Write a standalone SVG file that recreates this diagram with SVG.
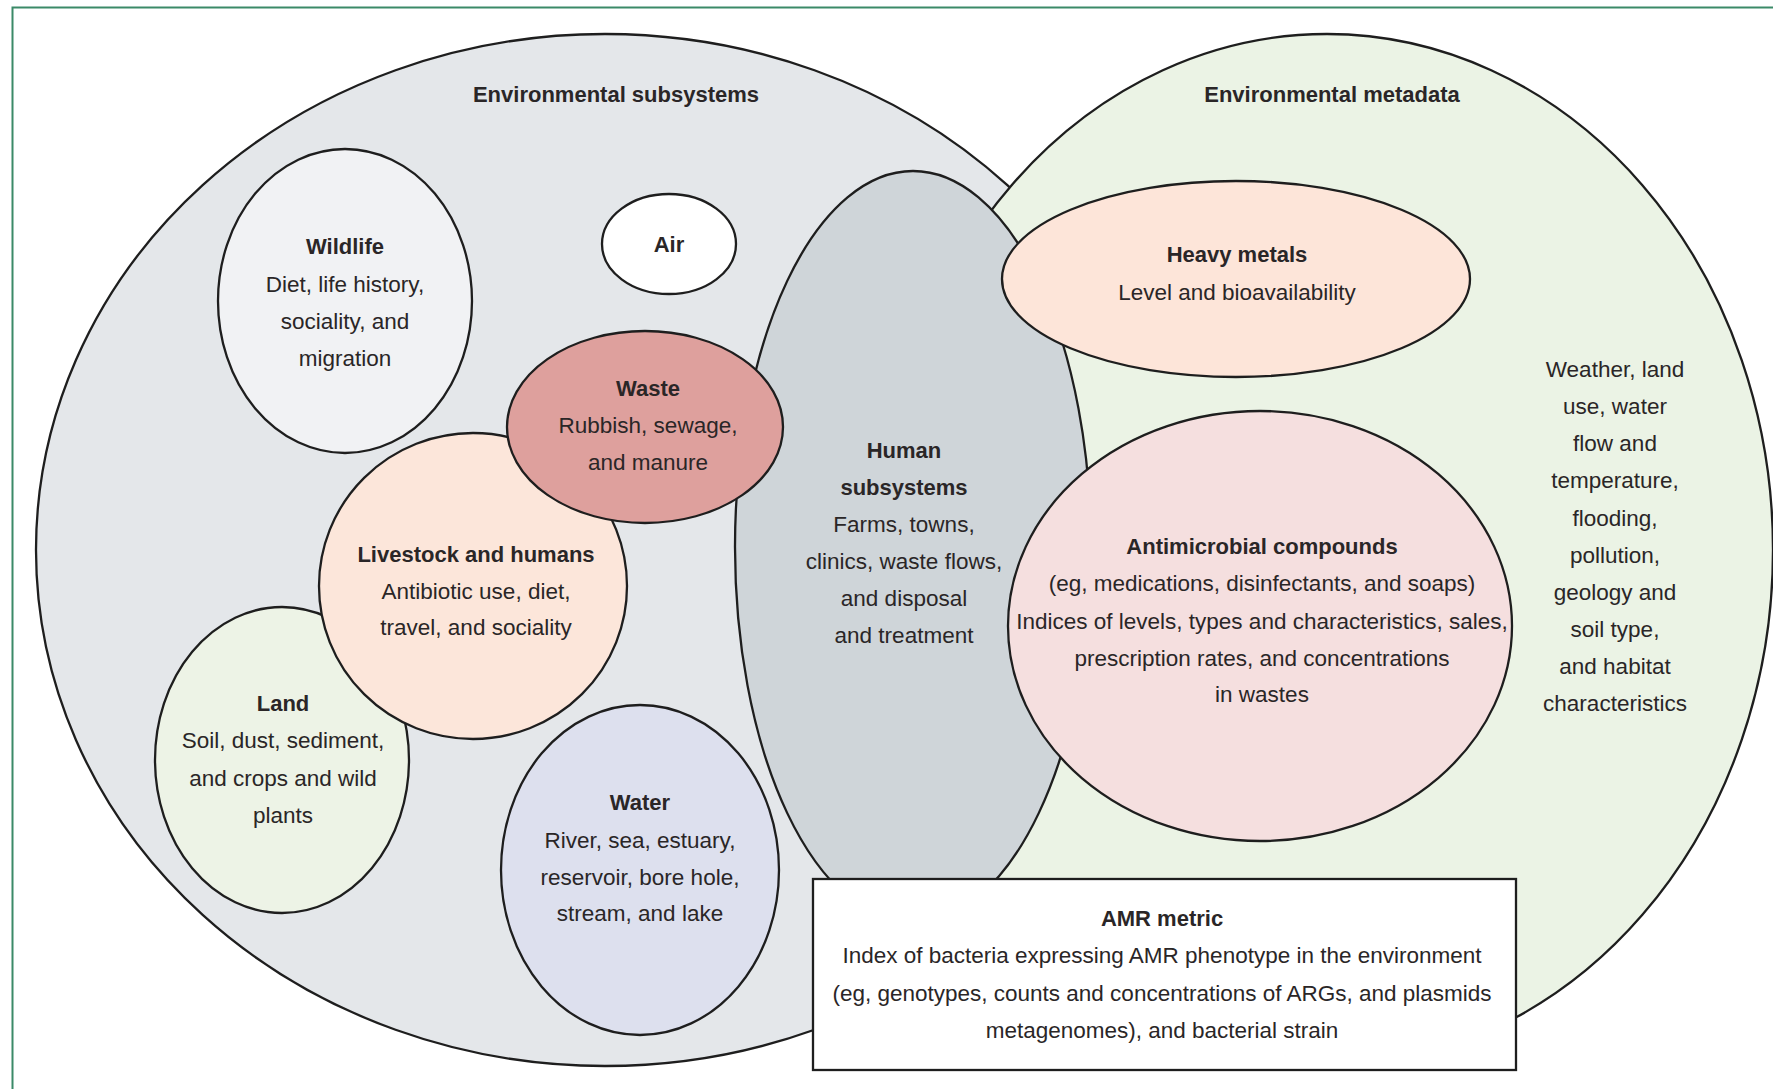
<svg xmlns="http://www.w3.org/2000/svg" width="1773" height="1089" viewBox="0 0 1773 1089">
<style>
.o{stroke:#1e1e1e;stroke-width:2.3}
text{font-family:"Liberation Sans",Arial,sans-serif;font-size:22.5px;fill:#2a2627;text-anchor:middle}
.b{font-weight:bold;font-size:22px}
</style>
<rect width="1773" height="1089" fill="#ffffff"/>
<rect x="12.5" y="7.5" width="1800" height="1200" fill="none" stroke="#3b8a68" stroke-width="2"/>
<g id="env-subsystems">
<ellipse class="o" cx="605" cy="550" rx="569" ry="516" fill="#e4e7ea"/>
</g>
<g id="env-metadata">
<ellipse class="o" cx="1327" cy="550" rx="446" ry="516" fill="#ebf3e5"/>
</g>
<g id="human">
<ellipse class="o" cx="913" cy="547" rx="178" ry="376" fill="#cfd5d9"/>
</g>
<g id="wildlife">
<ellipse class="o" cx="345" cy="301" rx="127" ry="152" fill="#f1f2f4"/>
</g>
<g id="air">
<ellipse class="o" cx="669" cy="244" rx="67" ry="50" fill="#ffffff"/>
</g>
<g id="land">
<ellipse class="o" cx="282" cy="760" rx="127" ry="153" fill="#edf3e6"/>
</g>
<g id="livestock">
<ellipse class="o" cx="473" cy="586" rx="154" ry="153" fill="#fce6da"/>
</g>
<g id="waste">
<ellipse class="o" cx="645" cy="427" rx="138" ry="96" fill="#dea09d"/>
</g>
<g id="water">
<ellipse class="o" cx="640" cy="870" rx="139" ry="165" fill="#dde0ee"/>
</g>
<g id="heavy-metals">
<ellipse class="o" cx="1236" cy="279" rx="234" ry="98" fill="#fde5d9"/>
</g>
<g id="antimicrobial">
<ellipse class="o" cx="1260" cy="626" rx="252" ry="215" fill="#f5dfdf"/>
</g>
<g id="amr-metric">
<rect class="o" x="813" y="879" width="703" height="191" fill="#ffffff" stroke-width="2.6"/>
</g>
<g id="connectors"></g>
<g id="labels">
<text class="b" x="616" y="102">Environmental subsystems</text>
<text class="b" x="1332" y="102">Environmental metadata</text>
<text class="b" x="345" y="254">Wildlife</text>
<text x="345" y="292">Diet, life history,</text>
<text x="345" y="329">sociality, and</text>
<text x="345" y="366">migration</text>
<text class="b" x="669" y="252">Air</text>
<text class="b" x="648" y="396">Waste</text>
<text x="648" y="433">Rubbish, sewage,</text>
<text x="648" y="470">and manure</text>
<text class="b" x="476" y="562">Livestock and humans</text>
<text x="476" y="599">Antibiotic use, diet,</text>
<text x="476" y="635">travel, and sociality</text>
<text class="b" x="283" y="711">Land</text>
<text x="283" y="748">Soil, dust, sediment,</text>
<text x="283" y="786">and crops and wild</text>
<text x="283" y="823">plants</text>
<text class="b" x="640" y="810">Water</text>
<text x="640" y="848">River, sea, estuary,</text>
<text x="640" y="885">reservoir, bore hole,</text>
<text x="640" y="921">stream, and lake</text>
<text class="b" x="904" y="458">Human</text>
<text class="b" x="904" y="495">subsystems</text>
<text x="904" y="532">Farms, towns,</text>
<text x="904" y="569">clinics, waste flows,</text>
<text x="904" y="606">and disposal</text>
<text x="904" y="643">and treatment</text>
<text class="b" x="1237" y="262">Heavy metals</text>
<text x="1237" y="300">Level and bioavailability</text>
<text class="b" x="1262" y="554">Antimicrobial compounds</text>
<text x="1262" y="591">(eg, medications, disinfectants, and soaps)</text>
<text x="1262" y="629">Indices of levels, types and characteristics, sales,</text>
<text x="1262" y="666">prescription rates, and concentrations</text>
<text x="1262" y="702">in wastes</text>
<text x="1615" y="377">Weather, land</text>
<text x="1615" y="414">use, water</text>
<text x="1615" y="451">flow and</text>
<text x="1615" y="488">temperature,</text>
<text x="1615" y="526">flooding,</text>
<text x="1615" y="563">pollution,</text>
<text x="1615" y="600">geology and</text>
<text x="1615" y="637">soil type,</text>
<text x="1615" y="674">and habitat</text>
<text x="1615" y="711">characteristics</text>
<text class="b" x="1162" y="926">AMR metric</text>
<text x="1162" y="963">Index of bacteria expressing AMR phenotype in the environment</text>
<text x="1162" y="1001">(eg, genotypes, counts and concentrations of ARGs, and plasmids</text>
<text x="1162" y="1038">metagenomes), and bacterial strain</text>
</g>
</svg>
